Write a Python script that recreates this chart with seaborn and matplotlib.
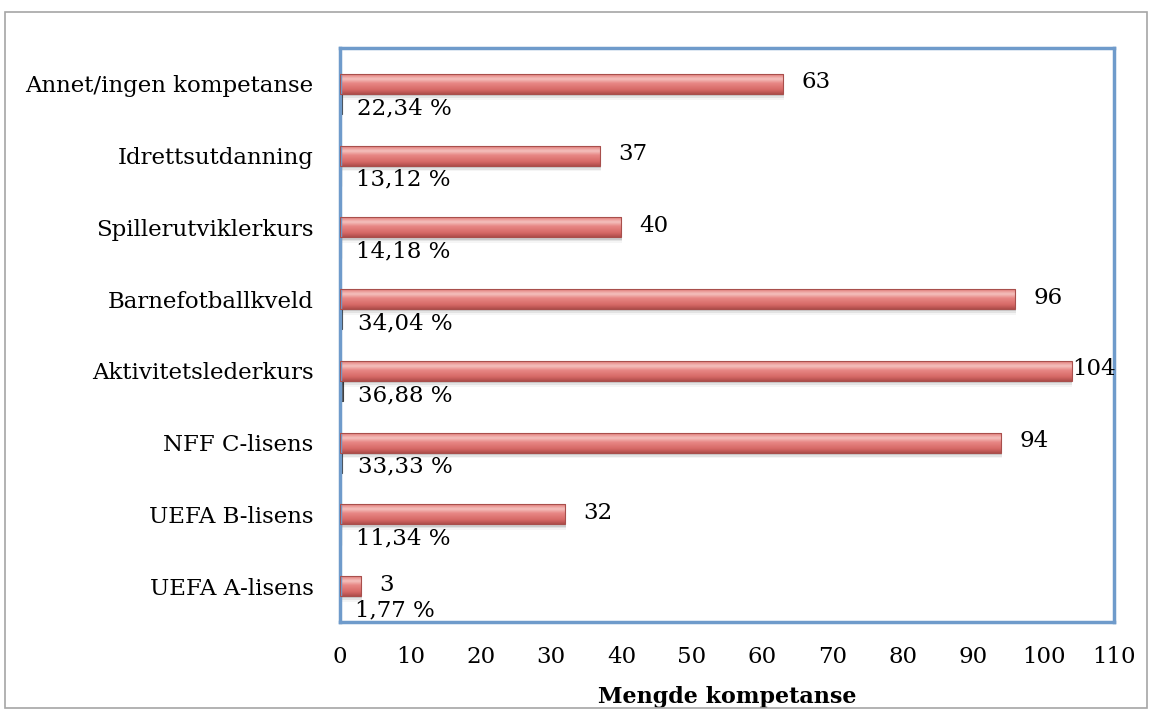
import numpy as np
import pandas as pd
import matplotlib
matplotlib.use("Agg")
import matplotlib.pyplot as plt
import matplotlib.transforms as mtransforms
import seaborn as sns
from matplotlib.patches import Rectangle

categories = ["Annet/ingen kompetanse", "Idrettsutdanning", "Spillerutviklerkurs",
              "Barnefotballkveld", "Aktivitetslederkurs", "NFF C-lisens",
              "UEFA B-lisens", "UEFA A-lisens"]
counts = [63, 37, 40, 96, 104, 94, 32, 3]
shares = [0.2234, 0.1312, 0.1418, 0.3404, 0.3688, 0.3333, 0.1134, 0.0177]
share_labels = ["22,34 %", "13,12 %", "14,18 %", "34,04 %", "36,88 %", "33,33 %", "11,34 %", "1,77 %"]
xticks = list(range(0, 111, 10))

sns.set_theme(style="white")
plt.rcParams["font.family"] = ["DejaVu Serif"]
plt.rcParams["text.color"] = "black"
plt.rcParams["axes.labelcolor"] = "black"
plt.rcParams["xtick.color"] = "black"
plt.rcParams["ytick.color"] = "black"

df_counts = pd.DataFrame({"kategori": categories, "verdi": counts})
df_shares = pd.DataFrame({"kategori": categories, "verdi": shares})

W, H = 1151, 711
FS = 16.5
BAR_W = 0.28
fig = plt.figure(figsize=(W / 100, H / 100), dpi=100)
ax = fig.add_axes([340 / W, 1 - 622 / H, (1114 - 340) / W, (622 - 48) / H])

sns.barplot(data=df_counts, y="kategori", x="verdi", order=categories, color="#d9706c",
            width=BAR_W, orient="h", ax=ax, saturation=1)
sns.barplot(data=df_shares, y="kategori", x="verdi", order=categories, color="#555555",
            width=BAR_W, orient="h", ax=ax, saturation=1)

# second series sits just below the first one
offset_data = mtransforms.Affine2D().translate(0, BAR_W) + ax.transData
count_container, share_container = ax.containers[0], ax.containers[1]
for patch in share_container.patches:
    patch.set_transform(offset_data)
    patch.set_edgecolor("#404040")
    patch.set_linewidth(0.8)

ax.set_xlim(0, 110)
ax.set_ylim(len(categories) - 0.5, -0.5)
ax.set_xticks(xticks)
ax.set_xticklabels([str(t) for t in xticks])
ax.tick_params(axis="x", labelsize=FS, length=0, pad=17)
ax.tick_params(axis="y", labelsize=FS, length=0, pad=19)
ax.set_ylabel("")
ax.set_xlabel("Mengde kompetanse", fontsize=16, fontweight="bold", labelpad=13)

# gradient fill for count bars
grad = np.linspace(0, 1, 128)
pos = np.array([0.0, 0.08, 0.28, 0.48, 0.80, 1.0])
cols = np.array([
    (0.76, 0.38, 0.37),
    (0.90, 0.52, 0.51),
    (0.96, 0.76, 0.75),
    (0.91, 0.53, 0.52),
    (0.84, 0.41, 0.40),
    (0.68, 0.30, 0.29),
])
img = np.stack([np.interp(grad, pos, cols[:, i]) for i in range(3)], axis=1)[:, None, :]

for patch in count_container.patches:
    x0, y0 = patch.get_x(), patch.get_y()
    w, h = patch.get_width(), patch.get_height()
    # soft shadow
    for k, a in enumerate([0.10, 0.07, 0.04]):
        ax.add_patch(Rectangle((x0 + 0.1, y0 + 0.03 + 0.025 * k), w, h, facecolor="#000000",
                               alpha=a, edgecolor="none", zorder=1))
    im = ax.imshow(img, extent=(x0, x0 + w, y0 + h, y0), aspect="auto", zorder=2,
                   interpolation="bicubic")
    im.set_clip_path(patch)
    patch.set_facecolor("none")
    patch.set_edgecolor("#a84f4c")
    patch.set_linewidth(0.8)
    patch.set_zorder(3)

ax.set_xlim(0, 110)
ax.set_ylim(len(categories) - 0.5, -0.5)

for patch, v in zip(count_container.patches, counts):
    yc = patch.get_y() + patch.get_height() / 2
    pad = 0 if v > 100 else 13
    ax.annotate(str(v), xy=(v, yc), xytext=(pad, 1), textcoords="offset points",
                va="center", ha="left", fontsize=FS, color="black", zorder=5)

for patch, v, lab in zip(share_container.patches, shares, share_labels):
    yc = patch.get_y() + patch.get_height() / 2
    ax.annotate(lab, xy=(v, yc), xycoords=offset_data, xytext=(11, -3), textcoords="offset points",
                va="center", ha="left", fontsize=FS, color="black", zorder=5)

for sp in ax.spines.values():
    sp.set_visible(True)
    sp.set_color("#6f9bcb")
    sp.set_linewidth(2.5)

fig.patches.append(Rectangle((5 / W, 1 - 708 / H), 1142 / W, 696 / H, transform=fig.transFigure,
                             facecolor="none", edgecolor="#a6a6a6", linewidth=1.2))

fig.savefig("out.png", dpi=100)
